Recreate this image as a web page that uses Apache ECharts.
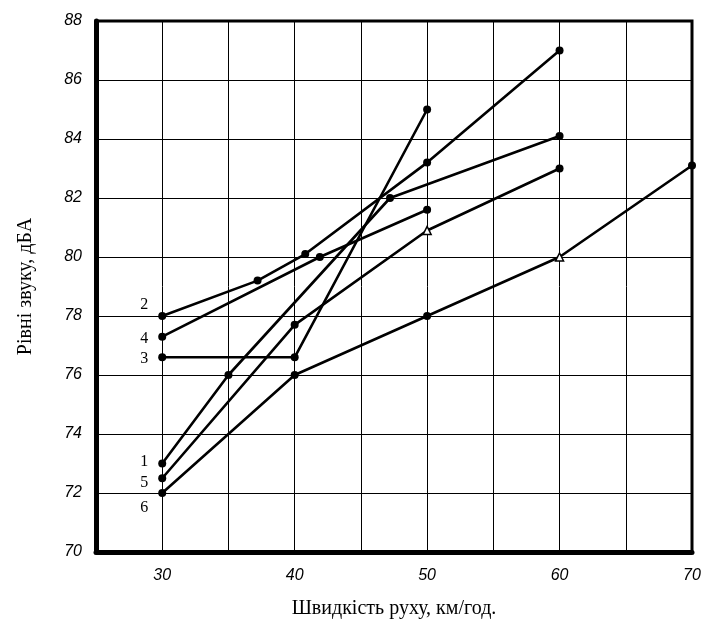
<!DOCTYPE html>
<html>
<head>
<meta charset="utf-8">
<script src="https://cdn.jsdelivr.net/npm/echarts@6/dist/echarts.min.js"></script>
<style>html,body{margin:0;padding:0;background:#fff}#c{width:702px;height:623px}</style>
</head>
<body>
<div id="c"></div>
<script>
// Data
const curveNames = ['1', '2', '3', '4', '5', '6'];
const curve1X = [30, 35, 47.2, 60];
const curve1Y = [73.0, 76.0, 82.0, 84.1];
const curve2X = [30, 37.2, 40.8, 50, 60];
const curve2Y = [78.0, 79.2, 80.1, 83.2, 87.0];
const curve3X = [30, 40, 50];
const curve3Y = [76.6, 76.6, 85.0];
const curve4X = [30, 41.9, 50];
const curve4Y = [77.3, 80.0, 81.6];
const curve5X = [30, 40, 50, 60];
const curve5Y = [72.5, 77.7, 80.9, 83.0];
const curve6X = [30, 40, 50, 60, 70];
const curve6Y = [72.0, 76.0, 78.0, 80.0, 83.1];
const xTickLabels = [30, 40, 50, 60, 70];
const yTickLabels = [70, 72, 74, 76, 78, 80, 82, 84, 86, 88];
// open (hollow) markers: [curve index, point index]
const openMarkers = [[4, 2], [5, 3]];
// label vertical offsets for curve numbers
const labelOffsetsY = [-2, -11, 1, 2, 5, 15];

const xs = [curve1X, curve2X, curve3X, curve4X, curve5X, curve6X];
const ys = [curve1Y, curve2Y, curve3Y, curve4Y, curve5Y, curve6Y];

const series = xs.map((xArr, i) => ({
  type: 'line',
  name: curveNames[i],
  symbol: 'circle',
  symbolSize: 8,
  lineStyle: { color: '#000', width: 2.6 },
  itemStyle: { color: '#000' },
  z: 5,
  data: xArr.map((x, j) => {
    const item = { value: [x, ys[i][j]] };
    if (openMarkers.some(m => m[0] === i && m[1] === j)) {
      item.symbol = 'triangle';
      item.symbolSize = 8;
      item.itemStyle = { color: '#fff', borderColor: '#000', borderWidth: 1.5 };
    }
    if (j === 0) {
      item.label = {
        show: true, position: 'left', distance: 10,
        offset: [0, labelOffsetsY[i]],
        formatter: curveNames[i],
        fontFamily: 'Liberation Serif', fontSize: 16, color: '#000'
      };
    }
    return item;
  })
}));

const chart = echarts.init(document.getElementById('c'), null, { renderer: 'canvas' });
chart.setOption({
  animation: false,
  backgroundColor: '#fff',
  grid: { left: 96, right: 10, top: 21, bottom: 71, show: true, borderColor: '#000', borderWidth: 3,
          containLabel: false, outerBoundsMode: 'none' },
  xAxis: {
    type: 'value', min: 25, max: 70, interval: 5,
    name: 'Швидкість руху, км/год.', nameLocation: 'middle', nameGap: 47,
    nameTextStyle: { fontFamily: 'Liberation Serif', fontSize: 20, color: '#000' },
    axisLine: { show: true, onZero: false, lineStyle: { color: '#000', width: 5 } },
    axisTick: { show: false },
    axisLabel: {
      margin: 16, color: '#000', fontFamily: 'Liberation Sans', fontStyle: 'italic', fontSize: 16,
      formatter: v => xTickLabels.includes(v) ? String(v) : ''
    },
    splitLine: { show: true, lineStyle: { color: '#000', width: 1 } }
  },
  yAxis: {
    type: 'value', min: 70, max: 88, interval: 2,
    name: 'Рівні звуку, дБА', nameLocation: 'middle', nameGap: 60,
    nameTextStyle: { fontFamily: 'Liberation Serif', fontSize: 20, color: '#000' },
    axisLine: { show: true, onZero: false, lineStyle: { color: '#000', width: 5 } },
    axisTick: { show: false },
    axisLabel: {
      margin: 14, color: '#000', fontFamily: 'Liberation Sans', fontStyle: 'italic', fontSize: 16,
      formatter: v => yTickLabels.includes(v) ? String(v) : ''
    },
    splitLine: { show: true, lineStyle: { color: '#000', width: 1 } }
  },
  series: series
});
</script>
</body>
</html>
